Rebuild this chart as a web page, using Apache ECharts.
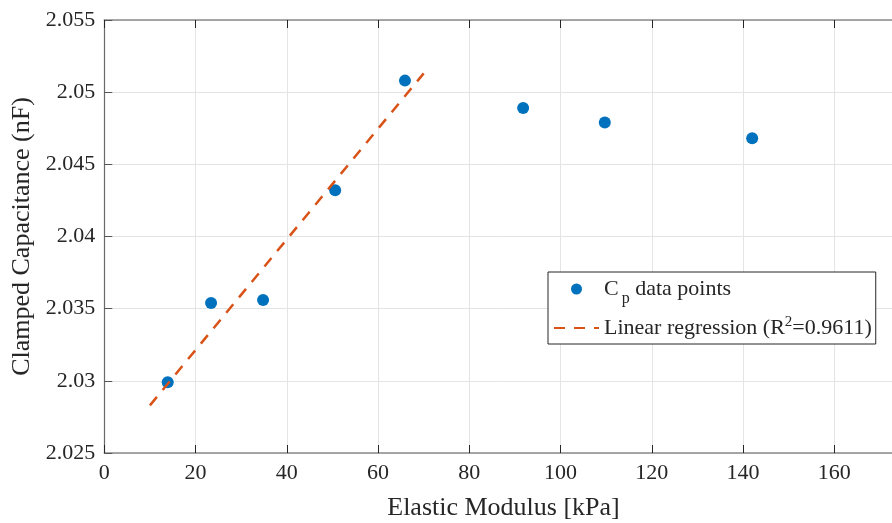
<!DOCTYPE html>
<html>
<head>
<meta charset="utf-8">
<script src="https://cdn.jsdelivr.net/npm/echarts@6/dist/echarts.min.js"></script>
<style>
  html, body { margin: 0; padding: 0; background: #fff; }
  #chart { width: 892px; height: 523px; }
</style>
</head>
<body>
<div id="chart"></div>
<script>
// Measured clamped capacitance against elastic modulus
const modulusKPa = [13.9, 23.4, 34.8, 50.6, 65.9, 91.8, 109.7, 142.0];
const capacitanceNF = [2.0299, 2.0354, 2.0356, 2.0432, 2.0508, 2.0489, 2.0479, 2.0468];

// Straight-line fit over the linear region
const fitModulusKPa = [10, 70];
const fitCapacitanceNF = [2.0283, 2.0513];

// Axis ticks and limits
const xTicks = [0, 20, 40, 60, 80, 100, 120, 140, 160];
const xLimit = 175;
const yTicks = [2.025, 2.03, 2.035, 2.04, 2.045, 2.05, 2.055];

const FONT = 'Liberation Serif';
const INK = '#262626';
const PX_PER_KPA = 4.5625;

const chart = echarts.init(document.getElementById('chart'), null, { renderer: 'canvas' });

const xCommon = {
  type: 'value',
  min: xTicks[0],
  max: xLimit,
  interval: xTicks[1] - xTicks[0],
  axisLine: { show: true, onZero: false, lineStyle: { color: '#8a8a8a', width: 1.5 } },
  axisTick: { show: true, inside: true, length: 8, lineStyle: { color: INK, width: 1 } }
};

chart.setOption({
  animation: false,
  backgroundColor: '#ffffff',
  grid: {
    left: 104.3, top: 20, width: xLimit * PX_PER_KPA, height: 433,
    containLabel: false,
    outerBoundsMode: 'none'
  },
  xAxis: [
    Object.assign({}, xCommon, {
      position: 'bottom',
      name: 'Elastic Modulus [kPa]',
      nameLocation: 'middle',
      nameGap: 42,
      nameTextStyle: { fontFamily: FONT, fontSize: 26, color: INK },
      axisLabel: { fontFamily: FONT, fontSize: 22, color: INK, margin: 9, showMaxLabel: false },
      splitLine: { show: true, lineStyle: { color: '#e4e4e4', width: 1 } }
    }),
    Object.assign({}, xCommon, {
      position: 'top',
      axisLabel: { show: false },
      splitLine: { show: false }
    })
  ],
  yAxis: {
    type: 'value',
    min: yTicks[0],
    max: yTicks[yTicks.length - 1],
    interval: 0.005,
    name: 'Clamped Capacitance (nF)',
    nameLocation: 'middle',
    nameGap: 68,
    nameTextStyle: { fontFamily: FONT, fontSize: 26, color: INK },
    axisLine: { show: true, lineStyle: { color: '#6a6a6a', width: 1.2 } },
    axisTick: { show: true, inside: true, length: 8, lineStyle: { color: '#555', width: 1 } },
    axisLabel: { fontFamily: FONT, fontSize: 22, color: INK, margin: 9 },
    splitLine: { show: true, lineStyle: { color: '#e4e4e4', width: 1 } }
  },
  legend: {
    orient: 'vertical',
    left: 548,
    top: 272,
    padding: [6, 4, 5, 5],
    itemGap: 8,
    itemWidth: 45,
    itemHeight: 11,
    backgroundColor: '#ffffff',
    borderColor: INK,
    borderWidth: 1,
    borderRadius: 0,
    data: [
      { name: 'points', icon: 'circle' },
      { name: 'fit', itemStyle: { opacity: 0 } }
    ],
    formatter: function (name) {
      if (name === 'points') return '{n|C}{sub|p}{n| data points}';
      return '{n|Linear regression (R}{sup|2}{n|=0.9611)}';
    },
    textStyle: {
      fontFamily: FONT,
      fontSize: 22,
      color: INK,
      rich: {
        n: { fontFamily: FONT, fontSize: 22, color: INK, lineHeight: 22, verticalAlign: 'middle' },
        sub: { fontFamily: FONT, fontSize: 16, color: INK, lineHeight: 22, verticalAlign: 'bottom', padding: [0, 0, -7, 3] },
        sup: { fontFamily: FONT, fontSize: 15, color: INK, lineHeight: 22, verticalAlign: 'top', padding: [-2, 0, 0, 0] }
      }
    }
  },
  series: [
    {
      name: 'points',
      type: 'scatter',
      xAxisIndex: 0,
      symbol: 'circle',
      symbolSize: 12,
      itemStyle: { color: '#0072BD', opacity: 1 },
      data: modulusKPa.map((x, i) => [x, capacitanceNF[i]]),
      z: 3
    },
    {
      name: 'fit',
      type: 'line',
      xAxisIndex: 0,
      showSymbol: false,
      symbol: 'none',
      itemStyle: { color: '#D95319' },
      lineStyle: { color: '#D95319', width: 2.5, type: [11, 9] },
      data: fitModulusKPa.map((x, i) => [x, fitCapacitanceNF[i]]),
      z: 4
    }
  ]
});
</script>
</body>
</html>
